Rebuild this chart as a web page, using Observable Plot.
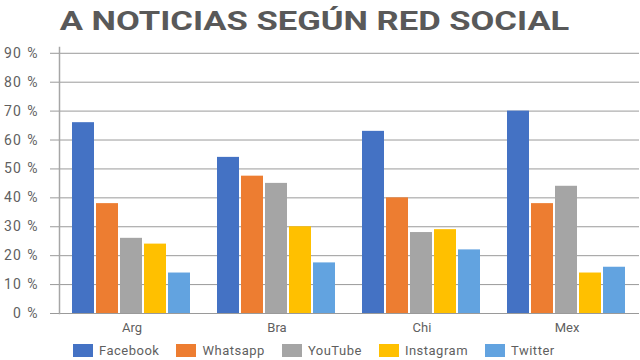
<!DOCTYPE html>
<html><head><meta charset="utf-8">
<script src="https://cdn.jsdelivr.net/npm/d3@7"></script>
<script src="https://cdn.jsdelivr.net/npm/@observablehq/plot@0.6"></script>
<style>
html,body{margin:0;padding:0;background:#fff;}
body{width:640px;height:360px;overflow:hidden;font-family:Roboto,sans-serif;}
#title{height:40px;line-height:40px;text-align:center;font-family:Roboto,sans-serif;font-weight:700;font-size:26px;color:#595959;white-space:nowrap;}
#title span{display:inline-block;transform:scaleX(1.33);transform-origin:center;margin-right:10px;position:relative;top:1px;}
#chart svg{display:block;}
#chart g[aria-label="y-axis tick label"], #chart g[aria-label="y-axis tick label"] text{font-size:14px !important;letter-spacing:1px;word-spacing:1px;}
.lg-swatches{min-height:20px !important;}
.lg-swatch{margin-right:17px !important;letter-spacing:0.5px;}
.lg-swatch > svg{margin-right:6px !important;}
</style></head><body>
<div id="title"><span>A NOTICIAS SEGÚN RED SOCIAL</span></div>
<div id="chart"></div>
<div id="legend"></div>
<script>
const countries = ["Arg", "Bra", "Chi", "Mex"];
const networks = ["Facebook", "Whatsapp", "YouTube", "Instagram", "Twitter"];
const colors = ["#4472C4", "#ED7D31", "#A5A5A5", "#FFC000", "#62A3E0"];
const facebook = [66, 54, 63, 70];
const whatsapp = [38, 47.5, 40, 38];
const youtube = [26, 45, 28, 44];
const instagram = [24, 30, 29, 14];
const twitter = [14, 17.5, 22, 16];
const yTicks = [0, 10, 20, 30, 40, 50, 60, 70, 80, 90];

const series = [facebook, whatsapp, youtube, instagram, twitter];
const data = countries.flatMap((c, i) => networks.map((n, j) => ({country: c, network: n, value: series[j][i]})));

const chart = Plot.plot({
  width: 640,
  height: 300,
  marginLeft: 58,
  marginRight: 0,
  marginTop: 7,
  marginBottom: 27,
  style: {fontFamily: "Roboto, sans-serif", fontSize: "13px", color: "#5f5f5f", background: "transparent", overflow: "visible"},
  fx: {domain: countries, padding: 0, label: null, tickSize: 0, tickPadding: 9},
  x: {domain: networks, paddingInner: 0.065, paddingOuter: 0.49, axis: null},
  y: {domain: [0, 92], label: null},
  color: {domain: networks, range: colors},
  marks: [
    Plot.ruleY(yTicks, {stroke: "#9a9a9a"}),
    Plot.frame({anchor: "left", facetAnchor: "left", stroke: "#a6a6a6", strokeWidth: 1.5}),
    Plot.axisY({ticks: yTicks, tickFormat: d => d + " %", tickSize: 9, tickPadding: 12, stroke: "#9a9a9a", fill: "#5f5f5f", label: null}),
    Plot.barY(data, {fx: "country", x: "network", y: "value", fill: "network"})
  ]
});
document.getElementById("chart").append(chart);

const legend = Plot.legend({
  color: {domain: networks, range: colors},
  swatchWidth: 20,
  swatchHeight: 13,
  marginLeft: 73,
  className: "lg",
  style: {fontFamily: "Roboto, sans-serif", fontSize: "13px", color: "#5f5f5f"}
});
document.getElementById("legend").append(legend);
</script>
</body></html>
